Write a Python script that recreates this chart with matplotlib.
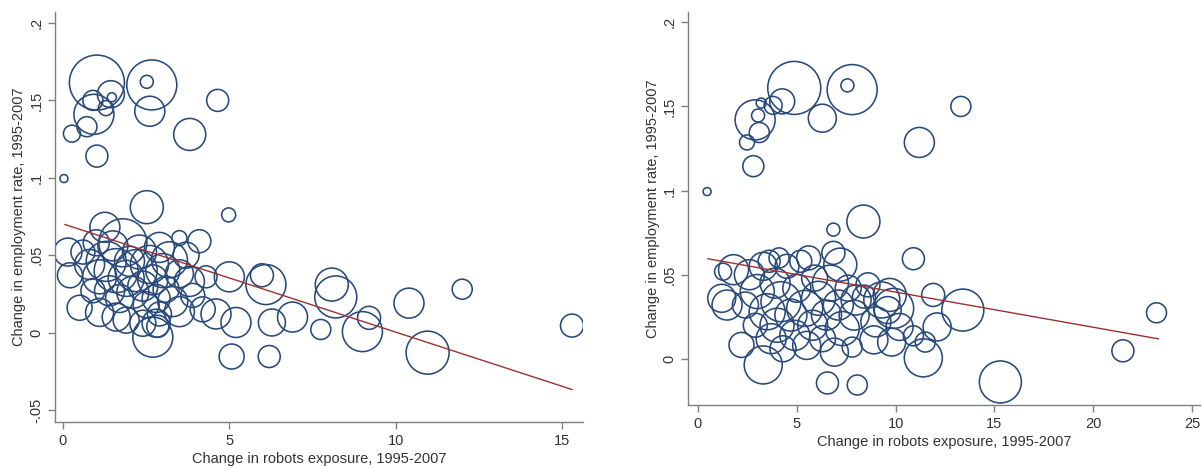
import numpy as np
import matplotlib.pyplot as plt
from matplotlib.ticker import FuncFormatter

plt.rcParams["font.family"] = ["Liberation Sans", "DejaVu Sans"]

# 左图: robots exposure (x), employment change (y), weight (circle diameter)
x_l = [0.03, 0.27, 1.02, 0.9, 0.72, 0.93, 1.29, 1.44, 1.47, 1.02, 2.67, 2.52, 2.61,
       3.81, 4.65, 2.52, 4.98,
       5.98, 6.1, 6.28, 6.9, 6.2, 8.08, 8.2, 7.75, 9.0, 9.2, 10.4, 10.96, 12.0, 15.3,
       5.07, 5.2, 5.0,
       0.15, 0.21, 0.5, 1.26, 3.5, 4.1, 2.7, 2.8, 2.85, 1.1, 1.6, 3.5, 3.8, 4.2, 4.6,
       0.6, 0.8, 1.0, 1.1, 1.3, 1.4, 1.5, 1.6, 1.7, 1.8, 1.9, 2.0, 2.1, 2.2, 2.3, 2.4,
       2.5, 2.6, 2.7, 2.8, 2.9, 3.0, 3.1, 3.2, 3.3, 3.5, 3.7, 3.9, 4.3, 2.9, 0.9, 1.9, 2.4]
y_l = [0.0995, 0.1285, 0.1615, 0.150, 0.133, 0.141, 0.145, 0.154, 0.152, 0.114, 0.160, 0.162, 0.143,
       0.128, 0.150, 0.081, 0.076,
       0.037, 0.031, 0.0065, 0.010, -0.0155, 0.031, 0.023, 0.002, 0.0006, 0.0095, 0.019, -0.013, 0.028, 0.0045,
       -0.0155, 0.0065, 0.036,
       0.052, 0.037, 0.016, 0.068, 0.061, 0.059, -0.003, 0.006, 0.004, 0.013, 0.010, 0.0135, 0.033, 0.015, 0.012,
       0.052, 0.044, 0.058, 0.036, 0.046, 0.027, 0.056, 0.040, 0.022, 0.058, 0.035, 0.046, 0.026, 0.040, 0.052, 0.030,
       0.018, 0.044, 0.034, 0.022, 0.055, 0.040, 0.028, 0.047, 0.020, 0.038, 0.050, 0.024, 0.036, 0.012, 0.027, 0.008, 0.006]
w_l = [8, 17, 55, 20, 20, 40, 15, 27, 9, 22, 50, 13, 30,
       32, 22, 33, 14,
       23, 40, 27, 30, 22, 33, 42, 20, 40, 23, 30, 43, 20, 23,
       25, 30, 30,
       28, 25, 25, 30, 15, 23, 40, 28, 22, 28, 28, 30, 30, 25, 30,
       24, 30, 26, 34, 40, 30, 30, 44, 28, 48, 36, 30, 32, 42, 34, 30,
       26, 38, 30, 28, 30, 34, 26, 36, 30, 28, 26, 24, 22, 24, 24, 26, 26]
fit_x_l = [0.06, 15.3]
fit_y_l = [0.0698, -0.0368]

# 右图
x_r = [0.46, 2.48, 2.89, 3.1, 3.04, 3.2, 3.8, 4.26, 4.87, 6.29, 7.8, 7.56, 2.8, 8.37, 6.85, 11.2, 13.3,
       10.9, 11.9, 13.4, 12.1, 10.9, 11.5, 11.4, 15.3, 21.5, 23.2, 9.7, 9.6, 8.4, 8.0, 8.9, 7.8, 8.06,
       6.55, 10.2, 3.3, 2.2, 1.47, 1.27, 1.2, 1.8, 6.85, 7.2,
       2.6, 3.0, 3.3, 3.5, 3.7, 3.9, 4.0, 4.2, 4.3, 4.5, 4.7, 4.9, 5.0, 5.2, 5.4, 5.5, 5.8, 5.9,
       6.1, 6.3, 6.5, 6.7, 6.9, 7.1, 7.3, 7.6, 7.9, 8.6, 9.0, 9.3, 9.8, 2.9, 2.4, 3.6, 4.1, 5.6, 9.9]
y_r = [0.0994, 0.1286, 0.142, 0.1345, 0.1446, 0.152, 0.1506, 0.153, 0.161, 0.143, 0.160, 0.1625, 0.1145,
       0.0816, 0.0768, 0.1286, 0.150,
       0.0595, 0.038, 0.029, 0.019, 0.0137, 0.010, 0.0006, -0.0137, 0.0048, 0.0274, 0.038, 0.029, 0.037,
       0.035, 0.0113, 0.007, -0.0155,
       -0.0143, 0.019, -0.0036, 0.0083, 0.032, 0.0518, 0.036, 0.053, 0.063, 0.056,
       0.050, 0.040, 0.055, 0.028, 0.012, 0.045, 0.020, 0.034, 0.006, 0.055, 0.026, 0.014, 0.042, 0.058,
       0.030, 0.008, 0.020, 0.048, 0.036, 0.012, 0.026, 0.045, 0.004, 0.032, 0.018, 0.042, 0.026, 0.044,
       0.022, 0.035, 0.010, 0.020, 0.032, 0.058, 0.060, 0.060, 0.030]
w_r = [8, 15, 40, 20, 13, 10, 18, 25, 53, 28, 50, 13, 21, 33, 13, 30, 20,
       22, 23, 42, 28, 20, 20, 38, 42, 22, 20, 33, 27, 23, 30, 28, 20, 20,
       22, 27, 38, 25, 30, 17, 28, 30, 23, 33,
       30, 34, 28, 36, 30, 30, 34, 40, 26, 24, 32, 30, 28, 22, 36, 28, 30, 26,
       34, 26, 30, 36, 28, 30, 34, 26, 30, 24, 30, 36, 28, 24, 26, 22, 20, 24, 40]
fit_x_r = [0.5, 23.3]
fit_y_r = [0.0595, 0.0119]

yticks_l = [-0.05, 0, 0.05, 0.1, 0.15, 0.2]
yticks_r = [0, 0.05, 0.1, 0.15, 0.2]
xticks_l = [0, 5, 10, 15]
xticks_r = [0, 5, 10, 15, 20, 25]

circle_col = "#28497a"
line_col = "#993333"
axis_col = "#808080"
text_col = "#333333"


def stata_fmt(v, pos):
    if abs(v) < 1e-9:
        return "0"
    s = ("%g" % v)
    return s.replace("0.", ".")


def draw_panel(ax, x, y, w, fx, fy, xticks, yticks, xlim, ylim):
    s = (np.array(w) * 0.72) ** 2
    ax.scatter(x, y, s=s, facecolors="none", edgecolors=circle_col, linewidths=1.15)
    ax.plot(fx, fy, color=line_col, lw=1.0)
    ax.set_xlim(xlim)
    ax.set_ylim(ylim)
    ax.set_xticks(xticks)
    ax.set_yticks(yticks)
    ax.yaxis.set_major_formatter(FuncFormatter(stata_fmt))
    for sp in ["top", "right"]:
        ax.spines[sp].set_visible(False)
    for sp in ["left", "bottom"]:
        ax.spines[sp].set_color(axis_col)
        ax.spines[sp].set_linewidth(1.0)
    ax.tick_params(colors=axis_col, labelcolor=text_col, length=5, width=1.0, labelsize=10.5)
    for lab in ax.get_yticklabels():
        lab.set_rotation(90)
        lab.set_va("center")
    ax.set_xlabel("Change in robots exposure, 1995-2007", fontsize=10.5, color=text_col, labelpad=3)
    ax.set_ylabel("Change in employment rate, 1995-2007", fontsize=10.5, color=text_col, labelpad=2)


fig = plt.figure(figsize=(12.03, 4.68), dpi=100)
ax1 = fig.add_axes([0.0457, 0.0983, 0.4389, 0.8757])
ax2 = fig.add_axes([0.572, 0.1346, 0.4255, 0.8394])

draw_panel(ax1, x_l, y_l, w_l, fit_x_l, fit_y_l, xticks_l, yticks_l, (-0.24, 15.63), (-0.0578, 0.207))
draw_panel(ax2, x_r, y_r, w_r, fit_x_r, fit_y_r, xticks_r, yticks_r, (-0.5, 25.4), (-0.0274, 0.206))

fig.savefig("out.png", dpi=100)
